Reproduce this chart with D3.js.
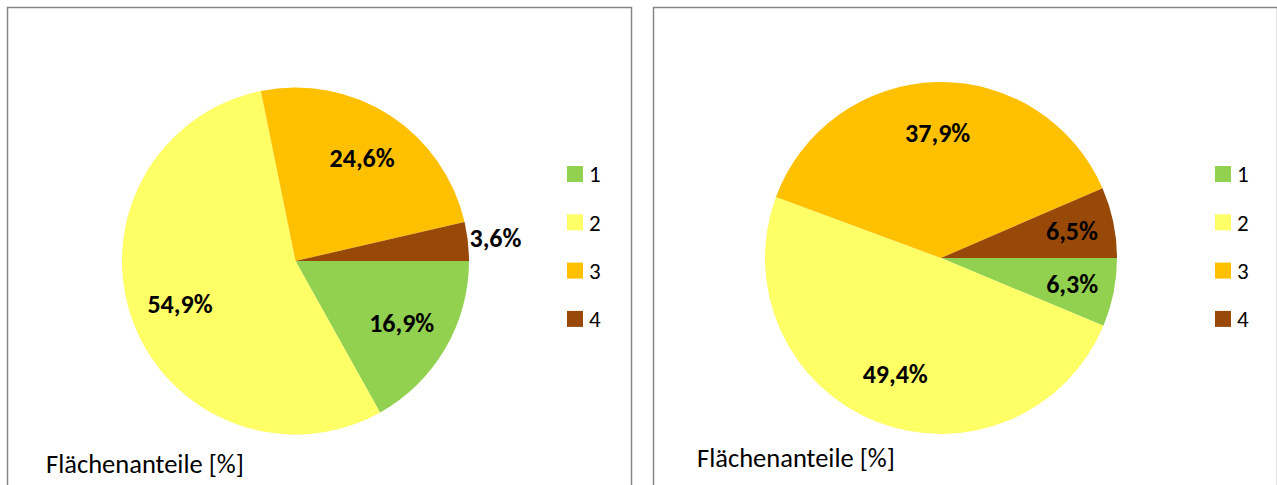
<!DOCTYPE html>
<html><head><meta charset="utf-8">
<script src="https://cdn.jsdelivr.net/npm/d3@7"></script>
<style>body{margin:0;background:#fff}svg{display:block}</style>
</head><body>
<svg id="c" width="1277" height="485"></svg>
<script>
const categories = ["1", "2", "3", "4"];
const valuesLeft = [16.9, 54.9, 24.6, 3.6];
const valuesRight = [6.3, 49.4, 37.9, 6.5];
const colors = ["#92D050", "#FFFF66", "#FFC000", "#984807"];
const titleText = "Flächenanteile [%]";

const font = "Carlito, Calibri, Lato, 'Open Sans', sans-serif";
const svg = d3.select("#c");
const color = d3.scaleOrdinal().domain(categories).range(colors);
const fmt = v => d3.format(".1f")(v).replace(".", ",") + "%";

const panels = [
  {values: valuesLeft, x0: 7, cx: 295.5, cy: 261, r: 173.5, legX: 567, titleX: 46, titleY: 473},
  {values: valuesRight, x0: 653, cx: 941, cy: 258, r: 176, legX: 1215, titleX: 697, titleY: 467}
];

panels.forEach(p => {
  const g = svg.append("g");
  g.append("rect").attr("x", p.x0 + 0.5).attr("y", 7.5).attr("width", 624).attr("height", 500)
    .attr("fill", "#fff").attr("stroke", "#868686").attr("stroke-width", 1.5);

  const data = categories.map((c, i) => ({cat: c, v: p.values[i]}));
  const pie = d3.pie().value(d => d.v).sort(null)
    .startAngle(Math.PI / 2).endAngle(Math.PI / 2 + 2 * Math.PI);
  const arcs = pie(data);
  const arc = d3.arc().innerRadius(0).outerRadius(p.r);
  const pg = g.append("g").attr("transform", `translate(${p.cx},${p.cy})`);
  pg.selectAll("path").data(arcs).join("path")
    .attr("d", arc).attr("fill", d => color(d.data.cat));

  pg.selectAll("text").data(arcs).join("text")
    .attr("transform", d => {
      const small = d.data.v < 5 && (d.endAngle - d.startAngle) < 0.25;
      const f = small ? 1.16 : (d.data.v < 10 ? 0.76 : 0.71);
      const a = (d.startAngle + d.endAngle) / 2;
      return `translate(${Math.sin(a) * p.r * f},${-Math.cos(a) * p.r * f})`;
    })
    .attr("text-anchor", "middle").attr("dy", "0.35em")
    .attr("font-family", font).attr("font-weight", "bold").attr("font-size", 26)
    .attr("fill", "#000").text(d => fmt(d.data.v));

  const lg = g.append("g");
  categories.forEach((c, i) => {
    const y = 174 + i * 48.3;
    lg.append("rect").attr("x", p.legX).attr("y", y - 8).attr("width", 16).attr("height", 16)
      .attr("fill", color(c));
    lg.append("text").attr("x", p.legX + 22).attr("y", y).attr("dy", "0.36em")
      .attr("font-family", font).attr("font-size", 23).attr("fill", "#000").text(c);
  });

  g.append("text").attr("x", p.titleX).attr("y", p.titleY)
    .attr("font-family", font).attr("font-size", 26.5).attr("fill", "#000").text(titleText);
});
</script>
</body></html>
